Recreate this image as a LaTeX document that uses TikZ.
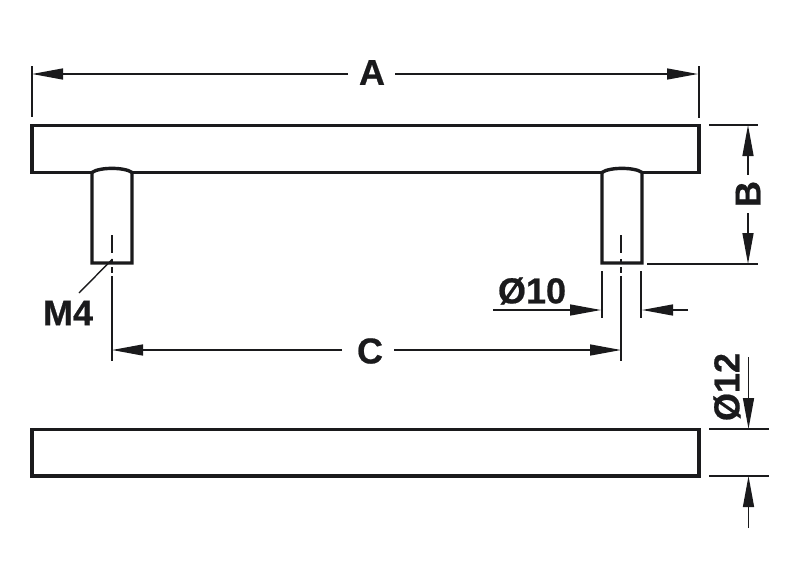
\documentclass[tikz,border=0pt]{standalone}
\usepackage{fontspec}
\setmainfont{Liberation Sans}[BoldFeatures={FakeBold=0.6}]
\usetikzlibrary{arrows.meta}
\definecolor{inkblack}{HTML}{1A1A1C}

\begin{document}
\begin{tikzpicture}[x=1pt,y=-1pt,>={Triangle[length=31pt,width=11pt]},
    body line/.style={draw=inkblack,line width=3.4pt,line join=miter},
    dim line/.style={draw=inkblack,line width=1.4pt},
    arrow line/.style={dim line,->},
    center line/.style={dim line,line width=1.2pt,dash pattern=on 18pt off 6pt on 3pt off 5pt on 6pt off 3pt on 90pt},
    dim label/.style={inner sep=0pt,text=inkblack,font=\fontsize{36}{36}\bfseries}]

    \useasboundingbox (0,0) rectangle (800,570);

    % handle, side view
    \draw[body line] (92,172.5) -- (32,172.5) -- (32,125.5) -- (699,125.5) -- (699,172.5) -- (642,172.5);
    \draw[body line] (132,172.5) -- (602,172.5);
    \draw[body line] (92,172.5) -- (92,263) -- (132,263) -- (132,172.5) .. controls (125,167) and (99,167) .. (92,172.5);
    \draw[body line] (602,172.5) -- (602,263) -- (642,263) -- (642,172.5) .. controls (635,167) and (609,167) .. (602,172.5);

    % handle, top view
    \draw[body line] (32,429.5) rectangle (699,476);

    % labels
    \node[dim label] (labelA) at (372,72.5) {A};
    \node[dim label,rotate=90] (labelB) at (748,194) {B};
    \node[dim label] (labelC) at (370,351) {C};
    \node[dim label] (labelMfour) at (68,313) {M4};
    \node[dim label] (labelTen) at (532,291) {Ø10};
    \node[dim label,rotate=90] (labelTwelve) at (727,387) {Ø12};

    % dimension A
    \coordinate (extAlt) at (32,66);
    \coordinate (extAlb) at (32,117);
    \coordinate (extArt) at (699,66);
    \coordinate (extArb) at (699,118);
    \coordinate (dimAl) at (32,74);
    \coordinate (dimAr) at (698,74);
    \coordinate (gapAl) at (348,74);
    \coordinate (gapAr) at (395,74);
    \draw[dim line] (extAlt) -- (extAlb);
    \draw[dim line] (extArt) -- (extArb);
    \draw[arrow line] (gapAl) -- (dimAl);
    \draw[arrow line] (gapAr) -- (dimAr);

    % dimension B
    \coordinate (extBtl) at (709,125);
    \coordinate (extBtr) at (758,125);
    \coordinate (extBbl) at (647,264);
    \coordinate (extBbr) at (758,264);
    \coordinate (dimBt) at (748,125);
    \coordinate (dimBb) at (748,264);
    \draw[dim line] (extBtl) -- (extBtr);
    \draw[dim line] (extBbl) -- (extBbr);
    \draw[arrow line,shorten <=6pt] (labelB) -- (dimBt);
    \draw[arrow line,shorten <=6pt] (labelB) -- (dimBb);

    % dimension C and centre lines
    \coordinate (midlt) at (112,235);
    \coordinate (midlb) at (112,361);
    \coordinate (midrt) at (621,235);
    \coordinate (midrb) at (621,361);
    \coordinate (dimCl) at (112,350);
    \coordinate (dimCr) at (621,350);
    \coordinate (gapCl) at (342,350);
    \coordinate (gapCr) at (394,350);
    \draw[center line] (midlt) -- (midlb);
    \draw[center line] (midrt) -- (midrb);
    \draw[arrow line] (gapCl) -- (dimCl);
    \draw[arrow line] (gapCr) -- (dimCr);

    % M4 leader
    \coordinate (leadTop) at (112.5,259);
    \coordinate (leadEnd) at (79,293);
    \draw[dim line] (leadEnd) -- (leadTop);

    % diameter 10
    \coordinate (extTlt) at (602,271);
    \coordinate (extTlb) at (602,318);
    \coordinate (extTrt) at (641,271);
    \coordinate (extTrb) at (641,318);
    \coordinate (tailTl) at (493,310);
    \coordinate (dimTl) at (601,310);
    \coordinate (tailTr) at (688,310);
    \coordinate (dimTr) at (642,310);
    \draw[dim line] (extTlt) -- (extTlb);
    \draw[dim line] (extTrt) -- (extTrb);
    \draw[arrow line] (tailTl) -- (dimTl);
    \draw[arrow line] (tailTr) -- (dimTr);

    % diameter 12
    \coordinate (extWtl) at (709,429);
    \coordinate (extWtr) at (769,429);
    \coordinate (extWbl) at (709,476);
    \coordinate (extWbr) at (769,476);
    \coordinate (tailWt) at (748.5,357);
    \coordinate (dimWt) at (748.5,429);
    \coordinate (tailWb) at (748.5,528);
    \coordinate (dimWb) at (748.5,476);
    \draw[dim line] (extWtl) -- (extWtr);
    \draw[dim line] (extWbl) -- (extWbr);
    \draw[arrow line] (tailWt) -- (dimWt);
    \draw[arrow line] (tailWb) -- (dimWb);
\end{tikzpicture}
\end{document}
